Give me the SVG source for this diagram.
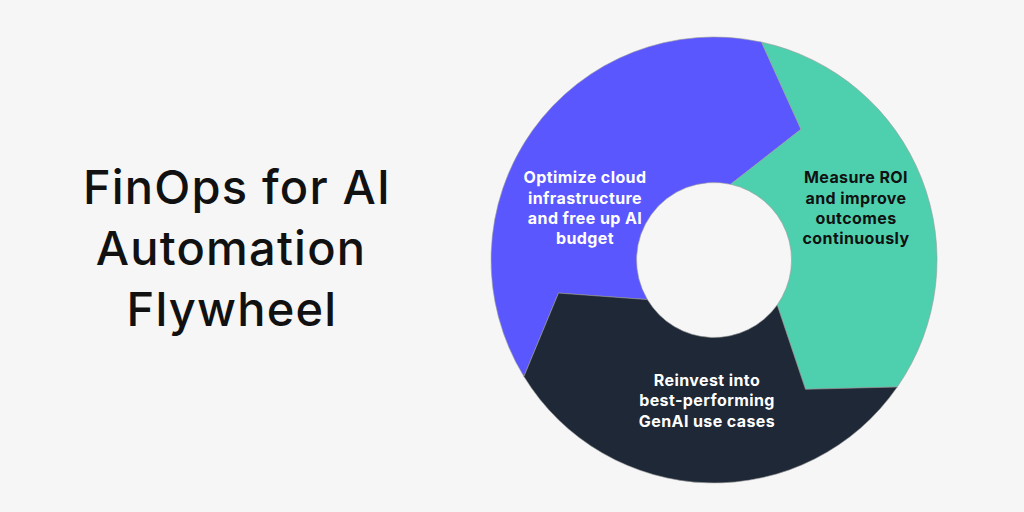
<svg xmlns="http://www.w3.org/2000/svg" width="1024" height="512" viewBox="0 0 1024 512">
<style>
.seg{stroke:#9a9a9a;stroke-width:0.6;stroke-linejoin:round}
.title{font-family:Inter,"Liberation Sans",sans-serif;font-size:47px;font-weight:500;fill:#111;text-anchor:middle;letter-spacing:1.2px}
.lbl{font-family:Inter,"Liberation Sans",sans-serif;font-size:16px;font-weight:700;text-anchor:middle;letter-spacing:0.4px}
</style>
<rect width="1024" height="512" fill="#F6F6F6"/>
<g id="title">
<text class="title" x="237" y="204">FinOps for AI</text>
<text class="title" x="231" y="265">Automation</text>
<text class="title" x="232" y="326">Flywheel</text>
</g>
<g id="optimize">
<path class="seg" fill="#5B57FF" d="M 523.9 376.5 A 223 223 0 0 1 761.5 42.1 L 801 129.3 L 730.6 184.3 A 77.5 77.5 0 0 0 647.4 299.6 L 558.5 293.1 Z"/>
<text class="lbl" fill="#FFFFFF"><tspan x="585" y="183">Optimize cloud</tspan><tspan x="585" y="204">infrastructure</tspan><tspan x="585" y="224">and free up AI</tspan><tspan x="585" y="244">budget</tspan></text>
</g>
<g id="measure">
<path class="seg" fill="#4ED0AE" d="M 761.5 42.1 A 223 223 0 0 1 897.3 387 L 805.5 389.3 L 777.2 304.9 A 77.5 77.5 0 0 0 730.6 184.3 L 801 129.3 Z"/>
<text class="lbl" fill="#111111"><tspan x="856" y="183">Measure ROI</tspan><tspan x="856" y="204">and improve</tspan><tspan x="856" y="224">outcomes</tspan><tspan x="856" y="244">continuously</tspan></text>
</g>
<g id="reinvest">
<path class="seg" fill="#1E2836" d="M 897.3 387 A 223 223 0 0 1 523.9 376.5 L 558.5 293.1 L 647.4 299.6 A 77.5 77.5 0 0 0 777.2 304.9 L 805.5 389.3 Z"/>
<text class="lbl" fill="#FFFFFF"><tspan x="707" y="386">Reinvest into</tspan><tspan x="707" y="406">best-performing</tspan><tspan x="707" y="427">GenAI use cases</tspan></text>
</g>
</svg>
